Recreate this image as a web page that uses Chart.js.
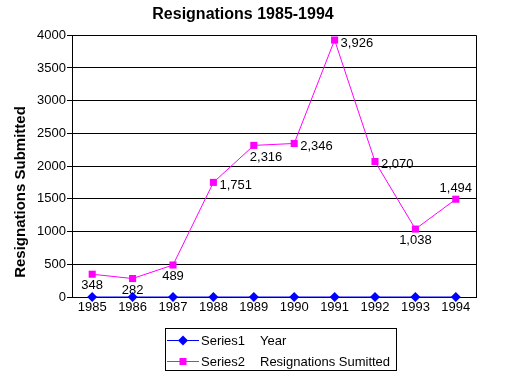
<!DOCTYPE html>
<html>
<head>
<meta charset="utf-8">
<script src="https://cdn.jsdelivr.net/npm/chart.js@4.4.0/dist/chart.umd.min.js"></script>
<style>
  body { margin: 0; background: #fff; }
</style>
</head>
<body>
<canvas id="myChart" width="506" height="391"></canvas>
<script>
// Data
const years = ['1985', '1986', '1987', '1988', '1989', '1990', '1991', '1992', '1993', '1994'];
const series1 = [0, 0, 0, 0, 0, 0, 0, 0, 0, 0];
const series2 = [348, 282, 489, 1751, 2316, 2346, 3926, 2070, 1038, 1494];
const seriesNames = ['Series1', 'Series2'];
const seriesDescriptions = ['Year', 'Resignations Sumitted'];
const yTicks = [0, 500, 1000, 1500, 2000, 2500, 3000, 3500, 4000];

// where each value label sits next to its point
const labelPlacement = ['below', 'below', 'below', 'right', 'belowRight', 'right', 'right', 'right', 'below', 'above'];

const FONT = '"Liberation Sans", Arial, sans-serif';

function drawMarker(ctx, style, x, y, color) {
    ctx.fillStyle = color;
    ctx.beginPath();
    if (style === 'rectRot') {
        ctx.moveTo(x, y - 5);
        ctx.lineTo(x + 5, y);
        ctx.lineTo(x, y + 5);
        ctx.lineTo(x - 5, y);
        ctx.closePath();
    } else {
        ctx.rect(x - 3.5, y - 3.5, 7, 7);
    }
    ctx.fill();
}

const extras = {
    id: 'extras',
    afterDraw(chart) {
        const ctx = chart.ctx;
        const a = chart.chartArea;
        ctx.save();

        // right side of the plot frame
        ctx.strokeStyle = '#000';
        ctx.lineWidth = 1;
        ctx.beginPath();
        ctx.moveTo(Math.round(a.right) + 0.5, a.top);
        ctx.lineTo(Math.round(a.right) + 0.5, a.bottom);
        ctx.stroke();

        // value labels on series 2
        ctx.font = '13px ' + FONT;
        ctx.fillStyle = '#000';
        const meta = chart.getDatasetMeta(1);
        meta.data.forEach((pt, i) => {
            const txt = series2[i].toLocaleString('en-US');
            const pos = labelPlacement[i];
            if (pos === 'below') {
                ctx.textAlign = 'center';
                ctx.textBaseline = 'top';
                ctx.fillText(txt, pt.x, pt.y + 5);
            } else if (pos === 'belowRight') {
                ctx.textAlign = 'left';
                ctx.textBaseline = 'top';
                ctx.fillText(txt, pt.x - 4, pt.y + 6);
            } else if (pos === 'above') {
                ctx.textAlign = 'center';
                ctx.textBaseline = 'bottom';
                ctx.fillText(txt, pt.x, pt.y - 4);
            } else {
                ctx.textAlign = 'left';
                ctx.textBaseline = 'middle';
                ctx.fillText(txt, pt.x + 6, pt.y + 3);
            }
        });

        // y axis title
        ctx.save();
        ctx.translate(21, 192);
        ctx.rotate(-Math.PI / 2);
        ctx.font = 'bold 15px ' + FONT;
        ctx.textAlign = 'center';
        ctx.textBaseline = 'middle';
        ctx.fillText('Resignations Submitted', 0, 0);
        ctx.restore();

        // legend box
        ctx.strokeStyle = '#000';
        ctx.strokeRect(165.5, 328.5, 231, 42);
        const rows = [340, 361];
        chart.data.datasets.forEach((ds, i) => {
            const y = rows[i];
            ctx.strokeStyle = ds.borderColor;
            ctx.beginPath();
            ctx.moveTo(167, y + 0.5);
            ctx.lineTo(199, y + 0.5);
            ctx.stroke();
            drawMarker(ctx, ds.pointStyle, 183, y + 0.5, ds.borderColor);
            ctx.fillStyle = '#000';
            ctx.font = '13px ' + FONT;
            ctx.textAlign = 'left';
            ctx.textBaseline = 'middle';
            ctx.fillText(seriesNames[i], 201, y + 1);
            ctx.fillText(seriesDescriptions[i], 260, y + 1);
        });

        ctx.restore();
    }
};

const config = {
    type: 'line',
    data: {
        labels: years,
        datasets: [{
            label: seriesNames[0] + ' ' + seriesDescriptions[0],
            data: series1,
            borderColor: '#0000ff',
            backgroundColor: '#0000ff',
            borderWidth: 1,
            pointStyle: 'rectRot',
            pointRadius: 5,
            pointBorderWidth: 0,
            clip: false
        }, {
            label: seriesNames[1] + ' ' + seriesDescriptions[1],
            data: series2,
            borderColor: '#ff00ff',
            backgroundColor: '#ff00ff',
            borderWidth: 1,
            pointStyle: 'rect',
            pointRadius: 5,
            pointBorderWidth: 0,
            clip: false
        }]
    },
    options: {
        responsive: false,
        animation: false,
        layout: {
            padding: { left: 10, right: 30, top: 0, bottom: 74 }
        },
        scales: {
            x: {
                offset: true,
                grid: { display: false, drawTicks: false },
                border: { display: true, color: '#000', width: 1 },
                ticks: {
                    color: '#000',
                    font: { family: FONT, size: 13 },
                    padding: 3,
                    maxRotation: 0,
                    autoSkip: false
                },
                afterFit: scale => { scale.height = 20; }
            },
            y: {
                min: 0,
                max: 4000,
                afterBuildTicks: scale => {
                    scale.ticks = yTicks.map(v => ({ value: v }));
                },
                grid: { color: '#000', lineWidth: 1, tickLength: 5 },
                border: { display: true, color: '#000', width: 1 },
                ticks: {
                    color: '#000',
                    font: { family: FONT, size: 13 },
                    padding: 1,
                    callback: v => String(v)
                },
                afterFit: scale => { scale.width = 62; }
            }
        },
        plugins: {
            legend: { display: false },
            tooltip: { enabled: false },
            title: {
                display: true,
                text: 'Resignations 1985-1994',
                color: '#000',
                font: { family: FONT, size: 16, weight: 'bold' },
                padding: { top: 5, bottom: 11 }
            }
        }
    },
    plugins: [extras]
};

const chart = new Chart(document.getElementById('myChart'), config);
</script>
</body>
</html>
